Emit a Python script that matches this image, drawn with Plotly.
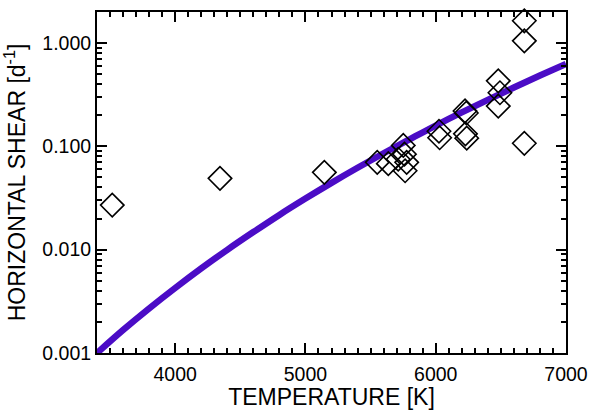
import plotly.graph_objects as go

# Fitted relation
curve_temp = [3400, 3600, 3800, 4000, 4200, 4400, 4600, 4800, 5000, 5200, 5400,
              5600, 5800, 6000, 6200, 6400, 6600, 6800, 7000]
curve_shear = [0.00100, 0.00167, 0.00270, 0.00426, 0.00659, 0.00997, 0.0148, 0.0217,
               0.0312, 0.0443, 0.0620, 0.0857, 0.117, 0.159, 0.213, 0.282, 0.371,
               0.484, 0.628]

# Observed stars (diamonds)
star_temp = [3517, 4344, 5145, 5551, 5636, 5712, 5751, 5760, 5777, 5765,
             6025, 6030, 6225, 6235, 6228, 6238, 6480, 6493, 6480, 6680, 6680, 6680]
star_shear = [0.027, 0.049, 0.056, 0.070, 0.068, 0.075, 0.102, 0.084, 0.070, 0.058,
              0.140, 0.121, 0.220, 0.210, 0.132, 0.120, 0.430, 0.330, 0.245, 1.64, 1.05, 0.107]

FONT = "Liberation Sans, Arial, sans-serif"
LINE_COLOR = "#4B0CC6"

minor_y = [m * 10 ** e for e in (-3, -2, -1, 0) for m in range(2, 10)]

fig = go.Figure()
fig.add_trace(go.Scatter(
    x=curve_temp, y=curve_shear, mode="lines",
    line=dict(color=LINE_COLOR, width=6.5, shape="spline"),
    showlegend=False, hoverinfo="skip"))
fig.add_trace(go.Scatter(
    x=star_temp, y=star_shear, mode="markers",
    marker=dict(symbol="diamond-open", size=18, color="black",
                line=dict(color="black", width=1.6)),
    cliponaxis=False, showlegend=False))
# carrier trace for the overlay axis that draws the minor log ticks
fig.add_trace(go.Scatter(
    x=[curve_temp[0]], y=[curve_shear[0]], yaxis="y2", mode="markers",
    marker=dict(opacity=0), showlegend=False, hoverinfo="skip"))

fig.update_layout(
    width=589, height=410,
    margin=dict(l=97, r=23, t=12, b=57, autoexpand=False),
    paper_bgcolor="white", plot_bgcolor="white",
    font=dict(family=FONT, size=19.5, color="black"),
    xaxis=dict(
        range=[3400, 7000], tickmode="linear", tick0=4000, dtick=1000,
        ticks="inside", ticklen=10, tickwidth=2, tickcolor="black",
        showline=True, linewidth=2, linecolor="black", mirror="ticks",
        showgrid=False, zeroline=False, automargin=False,
        ticklabelstandoff=3,
        minor=dict(dtick=100, tick0=4000, ticks="inside",
                   ticklen=5, tickwidth=2, tickcolor="black", showgrid=False),
        title=dict(text="TEMPERATURE [K]", standoff=0),
    ),
    yaxis=dict(
        type="log", range=[-3, 0.3], dtick=1, tickformat=".3f",
        ticks="inside", ticklen=10, tickwidth=2, tickcolor="black",
        showline=True, linewidth=2, linecolor="black", mirror="ticks",
        showgrid=False, zeroline=False, automargin=False,
        title=dict(text="HORIZONTAL SHEAR [d<sup>-1</sup>]", standoff=14),
    ),
    yaxis2=dict(
        type="log", range=[-3, 0.3], overlaying="y", side="left",
        tickmode="array", tickvals=minor_y, showticklabels=False,
        ticks="inside", ticklen=5, tickwidth=2, tickcolor="black",
        showline=False, mirror="ticks", showgrid=False, zeroline=False,
        automargin=False,
    ),
)

fig.write_html("out.html", config={"displayModeBar": False},
               post_script="document.body.style.margin='0';document.body.style.overflow='hidden';")
